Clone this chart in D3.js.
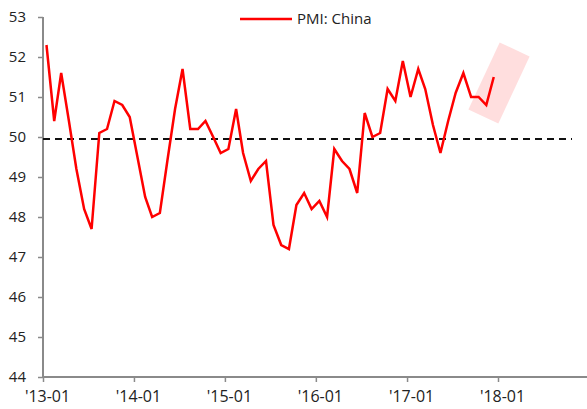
<!DOCTYPE html>
<html>
<head>
<meta charset="utf-8">
<script src="https://cdn.jsdelivr.net/npm/d3@7"></script>
<style>
  html, body { margin: 0; padding: 0; background: #fff; }
  svg { display: block; font-family: "Open Sans", "Liberation Sans", sans-serif; }
</style>
</head>
<body>
<svg id="chart" width="587" height="409"></svg>
<script>
// Monthly manufacturing PMI, Jan 2013 – Dec 2017
const months = d3.timeMonth.range(new Date(2013, 0, 1), new Date(2018, 0, 1))
  .map(d => d3.timeFormat("%Y-%m")(d));
const pmiChina = [
  52.3, 50.4, 51.6, 50.4, 49.2, 48.2, 47.7, 50.1, 50.2, 50.9, 50.8, 50.5,
  49.5, 48.5, 48.0, 48.1, 49.4, 50.7, 51.7, 50.2, 50.2, 50.4, 50.0, 49.6,
  49.7, 50.7, 49.6, 48.9, 49.2, 49.4, 47.8, 47.3, 47.2, 48.3, 48.6, 48.2,
  48.4, 48.0, 49.7, 49.4, 49.2, 48.6, 50.6, 50.0, 50.1, 51.2, 50.9, 51.9,
  51.0, 51.7, 51.2, 50.3, 49.6, 50.4, 51.1, 51.6, 51.0, 51.0, 50.8, 51.5
];
const referenceLevel = 49.95;
const yTicks = [44, 45, 46, 47, 48, 49, 50, 51, 52, 53];
const xTickLabels = ["'13-01", "'14-01", "'15-01", "'16-01", "'17-01", "'18-01"];
const seriesName = "PMI: China";

const svg = d3.select("#chart");
const parseMonth = d3.timeParse("%Y-%m");
const mid = s => d3.timeDay.offset(parseMonth(s), 14);

const x = d3.scaleTime()
  .domain([new Date(2013, 0, 1), new Date(2018, 0, 1)])
  .range([43, 498]);
const y = d3.scaleLinear().domain([44, 53]).range([377, 17]);

const axisColor = "#8a8a8a";

// highlight band around the latest readings
const hx = x(new Date(2018, 0, 1)) + 1, hy = y(51.35);
svg.append("rect")
  .attr("x", hx - 16.5).attr("y", hy - 37)
  .attr("width", 33).attr("height", 74)
  .attr("fill", "#ffdede")
  .attr("transform", `rotate(25, ${hx}, ${hy})`);

// y axis
const yAxis = svg.append("g").attr("transform", "translate(43,0)")
  .call(d3.axisLeft(y).tickValues(yTicks).tickSize(5).tickSizeOuter(0).tickPadding(12));
yAxis.select(".domain").attr("stroke", axisColor).attr("stroke-width", 2)
  .attr("d", `M0,${y(53)}V${y(44)}`);
yAxis.selectAll(".tick line").attr("stroke", axisColor).attr("stroke-width", 1.5);
yAxis.selectAll(".tick text").attr("fill", "#222").style("font-size", "15px")
  .style("font-family", "'Open Sans', sans-serif");

// x axis
const xTicks = xTickLabels.map((_, i) => new Date(2013 + i, 0, 1));
const xAxis = svg.append("g").attr("transform", `translate(0,${y(44)})`)
  .call(d3.axisBottom(x).tickValues(xTicks).tickSize(5).tickSizeOuter(0).tickPadding(9)
    .tickFormat((d, i) => xTickLabels[i]));
xAxis.select(".domain").attr("stroke", axisColor).attr("stroke-width", 2)
  .attr("d", `M43,0H587`);
xAxis.selectAll(".tick line").attr("stroke", axisColor).attr("stroke-width", 1.5);
xAxis.selectAll(".tick text").attr("fill", "#222").style("font-size", "16px")
  .style("font-family", "'Open Sans', sans-serif").attr("dx", 4);

// 50-ish reference level
svg.append("line")
  .attr("x1", 43).attr("x2", 572)
  .attr("y1", y(referenceLevel)).attr("y2", y(referenceLevel))
  .attr("stroke", "#111").attr("stroke-width", 2)
  .attr("stroke-dasharray", "7,5");

// series line
const line = d3.line()
  .x((d, i) => x(mid(months[i])))
  .y(d => y(d));
svg.append("path")
  .datum(pmiChina)
  .attr("d", line)
  .attr("fill", "none")
  .attr("stroke", "#ff0000")
  .attr("stroke-width", 2.5)
  .attr("stroke-linejoin", "miter");

// legend
const lg = svg.append("g").attr("transform", "translate(240,19)");
lg.append("line").attr("x1", 0).attr("x2", 52).attr("y1", 0).attr("y2", 0)
  .attr("stroke", "#ff0000").attr("stroke-width", 2.5);
lg.append("text").attr("x", 57).attr("y", 0).attr("dy", "0.35em")
  .attr("fill", "#222").style("font-size", "15px").text(seriesName);
</script>
</body>
</html>
